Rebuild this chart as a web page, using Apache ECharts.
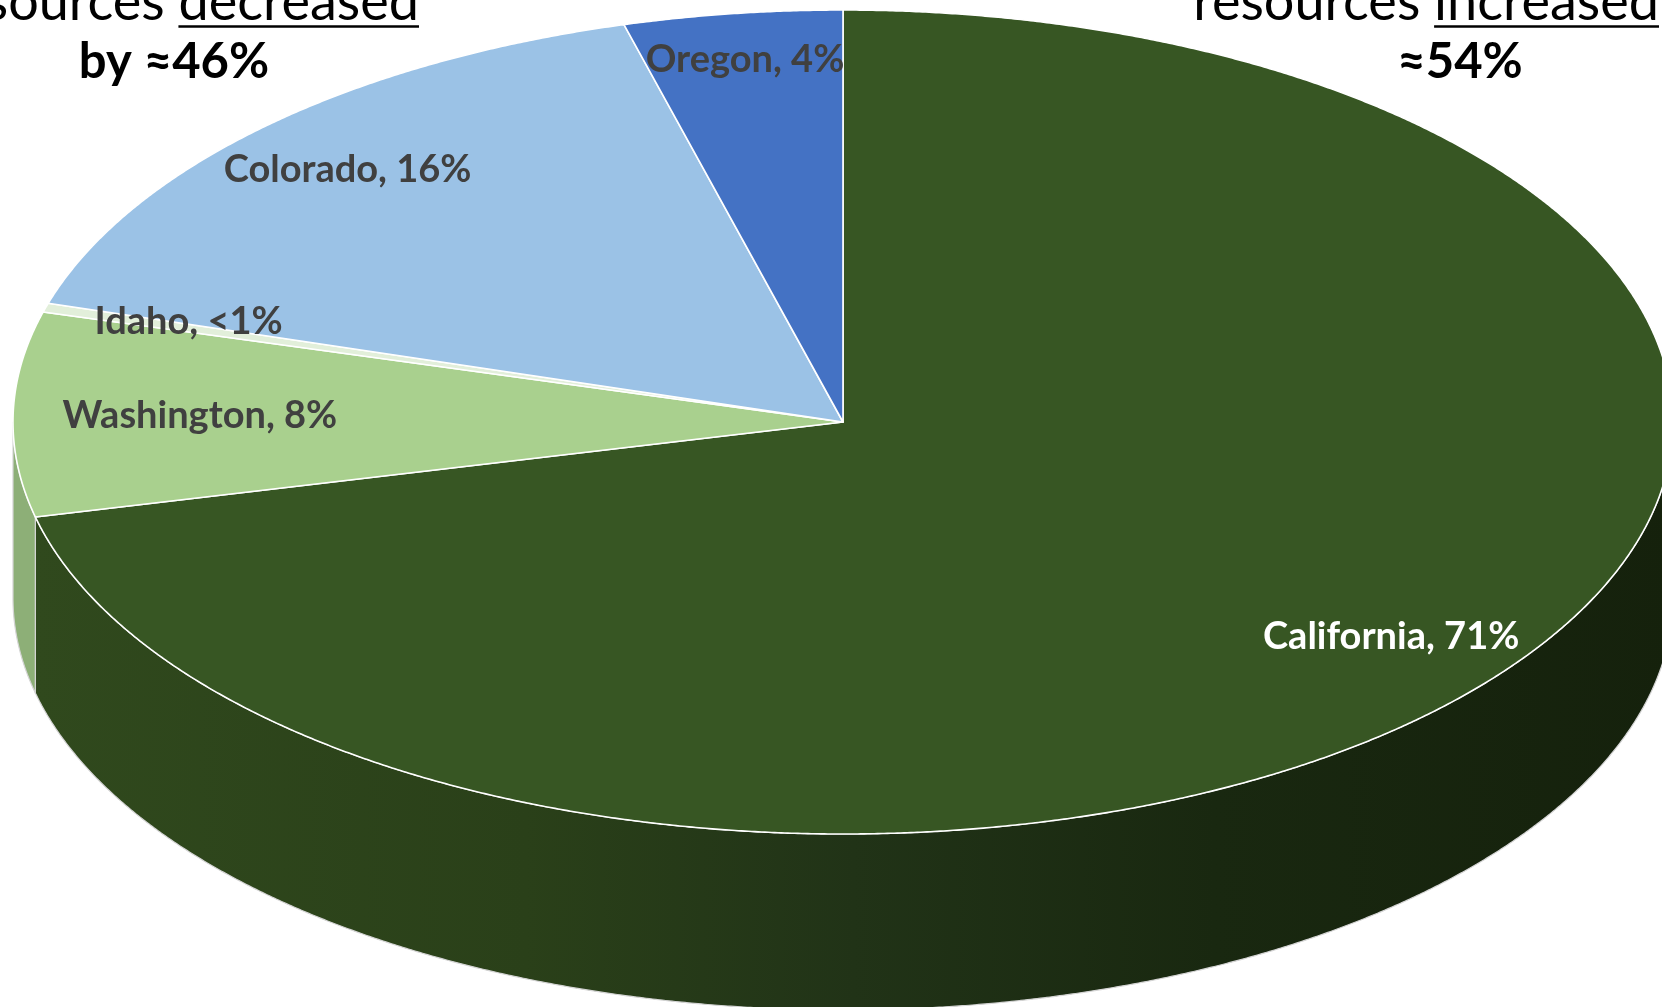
<!DOCTYPE html>
<html><head><meta charset="utf-8">
<script src="https://cdn.jsdelivr.net/npm/echarts@6/dist/echarts.min.js"></script>
<style>html,body{margin:0;padding:0;background:#fff;overflow:hidden}#c{width:1662px;height:1007px}</style>
</head><body><div id="c"></div>
<script>
// ---------- data ----------
const categories = ['California', 'Washington', 'Idaho', 'Colorado', 'Oregon'];
const shares = [71.3, 8.0, 0.35, 16.1, 4.25];
const shareLabels = ['71%', '8%', '<1%', '16%', '4%'];
const leftNote = ['resources ', 'decreased', 'by ≈46%'];
const rightNote = ['resources ', 'increased', '≈54%'];

// ---------- styles ----------
const topColors = ['#375623', '#A9D08E', '#E2EFDA', '#9BC2E6', '#4472C4'];
const sideColors = [null, '#8DAF77', '#C5D9B8', '#7FA3C4', '#34589A'];
const labelColors = ['#FFFFFF', '#404040', '#404040', '#404040', '#404040'];
const labelRadius = [0.842, 0.775, 0.825, 0.855, 0.887];
const labelAngleShift = [0, 0, 1.0, 0, 0]; // degrees

const CX = 843, CY = 422, RX = 830, RY = 412, DEPTH = 176;
const TAU = Math.PI * 2;
const total = shares.reduce((a, b) => a + b, 0);
const starts = [];
(function () { let acc = 0; shares.forEach(v => { starts.push(acc / total * TAU); acc += v; }); })();

function pt(t, dy) { return [CX + RX * Math.sin(t), CY - RY * Math.cos(t) + (dy || 0)]; }
function arc(a0, a1, dy) {
  const n = Math.max(2, Math.ceil(Math.abs(a1 - a0) / 0.004));
  const out = [];
  for (let k = 0; k <= n; k++) out.push(pt(a0 + (a1 - a0) * k / n, dy));
  return out;
}

function renderSide(params, api) {
  const i = params.dataIndex;
  const v = api.value(0);
  const a0 = starts[i], a1 = a0 + v / total * TAU;
  const b0 = Math.max(a0, Math.PI / 2), b1 = Math.min(a1, Math.PI * 1.5);
  if (b1 <= b0) return { type: 'group', children: [] };
  const pts = arc(b0, b1, 0).concat(arc(b1, b0, DEPTH));
  const fill = i === 0
    ? new echarts.graphic.LinearGradient(0, 0, 1, 0, [
        { offset: 0, color: '#30491D' },
        { offset: 0.3, color: '#2A4019' },
        { offset: 0.5, color: '#213317' },
        { offset: 0.72, color: '#192810' },
        { offset: 1, color: '#15210C' }
      ])
    : sideColors[i];
  return {
    type: 'polygon',
    shape: { points: pts },
    style: { fill: fill, stroke: '#D4D4D4', lineWidth: 1.2, lineJoin: 'round' }
  };
}

function renderTop(params, api) {
  const i = params.dataIndex;
  const v = api.value(0);
  const a0 = starts[i], a1 = a0 + v / total * TAU;
  const pts = [[CX, CY]].concat(arc(a0, a1, 0));
  const mid = (a0 + a1) / 2 + labelAngleShift[i] * Math.PI / 180;
  const lp = [CX + RX * labelRadius[i] * Math.sin(mid), CY - RY * labelRadius[i] * Math.cos(mid)];
  return {
    type: 'group',
    children: [
      {
        type: 'polygon',
        shape: { points: pts },
        style: { fill: topColors[i], stroke: '#FFFFFF', lineWidth: 1.6, lineJoin: 'round' }
      },
      {
        type: 'text',
        x: lp[0], y: lp[1],
        z2: 100,
        style: {
          text: categories[i] + ', ' + shareLabels[i],
          fill: labelColors[i],
          fontFamily: 'Lato', fontWeight: 'bold', fontSize: 38,
          align: 'center', verticalAlign: 'middle'
        }
      }
    ]
  };
}

// ---------- side notes ----------
const mctx = document.createElement('canvas').getContext('2d');
function tw(str, font) { mctx.font = font; return mctx.measureText(str).width; }
const F1 = '54px Lato', F2 = 'bold 49px Lato';

function noteGraphics(lines, right1, center2) {
  const wWord = tw(lines[1], F1);
  return [
    { type: 'text', x: right1, y: 3, style: { text: lines[0] + lines[1], font: F1, fill: '#000', align: 'right', verticalAlign: 'middle' } },
    { type: 'line', shape: { x1: right1 - wWord, y1: 26.5, x2: right1, y2: 26.5 }, style: { stroke: '#000', lineWidth: 2.5 } },
    { type: 'text', x: center2, y: 62, style: { text: lines[2], font: F2, fill: '#000', align: 'center', verticalAlign: 'middle' } }
  ];
}

const chart = echarts.init(document.getElementById('c'), null, { renderer: 'canvas' });
chart.setOption({
  backgroundColor: '#FFFFFF',
  animation: false,
  series: [
    { type: 'custom', name: 'side', coordinateSystem: 'none', z: 1, renderItem: renderSide, data: shares.map(v => [v]) },
    { type: 'custom', name: 'top', coordinateSystem: 'none', z: 2, renderItem: renderTop, data: shares.map(v => [v]) }
  ],
  graphic: { elements: noteGraphics(leftNote, 419, 174).concat(noteGraphics(rightNote, 1659, 1460)) }
});
</script>
</body></html>
